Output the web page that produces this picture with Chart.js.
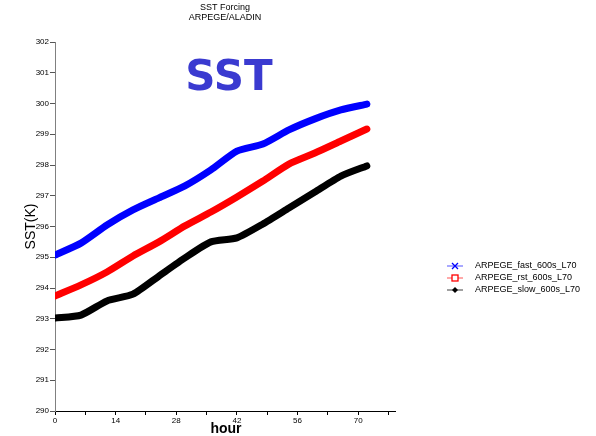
<!DOCTYPE html>
<html>
<head>
<meta charset="utf-8">
<script src="https://cdn.jsdelivr.net/npm/chart.js@4/dist/chart.umd.min.js"></script>
<style>
html,body{margin:0;padding:0;background:#fff;}
#wrap{width:596px;height:436px;position:relative;}
</style>
</head>
<body>
<div id="wrap"><canvas id="c" width="596" height="436"></canvas></div>
<script>
const hours = [0, 6, 12, 18, 24, 30, 36, 42, 48, 54, 60, 66, 72];
const fastSST = [295.07, 295.46, 296.05, 296.54, 296.93, 297.32, 297.84, 298.45, 298.68, 299.14, 299.50, 299.79, 299.98];
const rstSST  = [293.74, 294.10, 294.52, 295.04, 295.50, 296.02, 296.47, 296.96, 297.48, 298.03, 298.39, 298.78, 299.17];
const slowSST = [293.02, 293.12, 293.58, 293.80, 294.39, 294.98, 295.50, 295.63, 296.08, 296.60, 297.12, 297.64, 297.97];
const seriesNames = ["ARPEGE_fast_600s_L70", "ARPEGE_rst_600s_L70", "ARPEGE_slow_600s_L70"];
const yTicks = [290, 291, 292, 293, 294, 295, 296, 297, 298, 299, 300, 301, 302];
const xTicks = [0, 7, 14, 21, 28, 35, 42, 49, 56, 63, 70, 77];
const xLabels = [0, 14, 28, 42, 56, 70];
const titleLines = ["SST Forcing", "ARPEGE/ALADIN"];
const bigLabel = "SST";
const yTitle = "SST(K)";
const xTitle = "hour";

const colors = ["#0000ff", "#ff0000", "#000000"];
const legendLineColors = ["#8c8cff", "#ff8c8c", "#808080"];
const markers = ["cross", "square", "diamond"];

function pts(vals){ return hours.map((h,i)=>({x:h, y:vals[i]})); }

const decor = {
  id: 'decor',
  afterDraw(chart){
    const ctx = chart.ctx;
    const a = chart.chartArea;
    const cx = (a.left + a.right) / 2;
    ctx.save();
    ctx.fillStyle = '#000';
    ctx.textAlign = 'center';
    ctx.textBaseline = 'middle';
    ctx.font = '9px "Liberation Sans", Arial, sans-serif';
    ctx.fillText(titleLines[0], cx, 8);
    ctx.fillText(titleLines[1], cx, 18);
    // big SST
    ctx.fillStyle = 'rgb(58,58,208)';
    ctx.font = 'bold 42px "DejaVu Sans", sans-serif';
    ctx.textBaseline = 'alphabetic';
    ctx.fillText(bigLabel, 229, 90);
    // axis titles
    ctx.fillStyle = '#000';
    ctx.font = 'bold 14px "Liberation Sans", Arial, sans-serif';
    ctx.textBaseline = 'middle';
    ctx.fillText(xTitle, cx + 1, 429);
    ctx.save();
    ctx.translate(31, (a.top + a.bottom) / 2);
    ctx.rotate(-Math.PI / 2);
    ctx.font = '14px "Liberation Sans", Arial, sans-serif';
    ctx.fillText(yTitle, 0, 0);
    ctx.restore();
    // legend
    ctx.save();
    ctx.beginPath(); ctx.rect(430, 250, 152, 50); ctx.clip();
    const ys = [266, 278, 290];
    ctx.textAlign = 'left';
    ctx.font = '9px "Liberation Sans", Arial, sans-serif';
    for (let i = 0; i < seriesNames.length; i++) {
      const y = ys[i];
      ctx.strokeStyle = legendLineColors[i];
      ctx.lineWidth = 1.5;
      ctx.beginPath(); ctx.moveTo(447, y); ctx.lineTo(463, y); ctx.stroke();
      ctx.strokeStyle = colors[i];
      ctx.fillStyle = colors[i];
      ctx.lineWidth = 1.3;
      const m = markers[i], mx = 455;
      if (m === 'cross') {
        ctx.beginPath();
        ctx.moveTo(mx-3, y-3); ctx.lineTo(mx+3, y+3);
        ctx.moveTo(mx+3, y-3); ctx.lineTo(mx-3, y+3);
        ctx.stroke();
      } else if (m === 'square') {
        ctx.fillStyle = '#fff';
        ctx.fillRect(mx-3, y-3, 6, 6);
        ctx.strokeRect(mx-3, y-3, 6, 6);
      } else {
        ctx.beginPath();
        ctx.moveTo(mx, y-3); ctx.lineTo(mx+3, y); ctx.lineTo(mx, y+3); ctx.lineTo(mx-3, y);
        ctx.closePath(); ctx.fill();
      }
      ctx.fillStyle = '#000';
      ctx.fillText(seriesNames[i], 475, y);
    }
    ctx.restore();
    ctx.restore();
  }
};

new Chart(document.getElementById('c'), {
  type: 'line',
  data: {
    datasets: [
      {label: seriesNames[0], data: pts(fastSST), borderColor: colors[0]},
      {label: seriesNames[1], data: pts(rstSST), borderColor: colors[1]},
      {label: seriesNames[2], data: pts(slowSST), borderColor: colors[2]}
    ].map(d => Object.assign(d, {borderWidth: 7, pointRadius: 0, tension: 0.2, fill: false, borderCapStyle: 'round', borderJoinStyle: 'round'}))
  },
  options: {
    responsive: false,
    animation: false,
    layout: {padding: {left: 0, top: 42, right: 201, bottom: 0}},
    plugins: {legend: {display: false}, title: {display: false}, tooltip: {enabled: false}},
    scales: {
      x: {
        type: 'linear', min: 0, max: 78.5,
        afterBuildTicks: s => { s.ticks = xTicks.map(v => ({value: v})); },
        afterFit: s => { s.height = 25; },
        grid: {drawOnChartArea: false, drawTicks: true, tickLength: 4, color: '#000'},
        border: {display: true, color: '#000', width: 1},
        ticks: {
          autoSkip: false, maxRotation: 0, padding: 1, color: '#000',
          font: {family: '"Liberation Sans", Arial, sans-serif', size: 8},
          callback: v => xLabels.includes(v) ? String(v) : ''
        }
      },
      y: {
        type: 'linear', min: 290, max: 302,
        afterBuildTicks: s => { s.ticks = yTicks.map(v => ({value: v})); },
        afterFit: s => { s.width = 55; },
        grid: {drawOnChartArea: false, drawTicks: true, tickLength: 5, color: '#555'},
        border: {display: true, color: '#808080', width: 1},
        ticks: {
          autoSkip: false, padding: 1, color: '#000',
          font: {family: '"Liberation Sans", Arial, sans-serif', size: 8},
          callback: v => String(v)
        }
      }
    }
  },
  plugins: [decor]
});
</script>
</body>
</html>
